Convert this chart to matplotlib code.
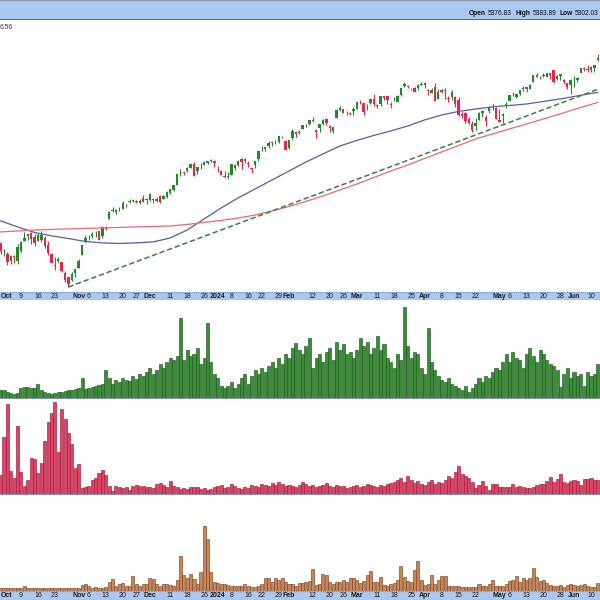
#!/usr/bin/env python3
"""Daily candlestick chart with moving averages and three indicator panels."""

import matplotlib

matplotlib.use("Agg")
import matplotlib.pyplot as plt
import numpy as np
import pandas as pd

plt.rcParams["font.family"] = ["Liberation Sans", "DejaVu Sans"]

START, END = "2023-09-29", "2024-06-12"
HOLIDAYS = ["2023-11-23", "2023-12-25", "2024-01-01", "2024-01-15",
            "2024-02-19", "2024-03-29", "2024-05-27"]

opens = [
    4328,
    4285, 4270, 4234, 4260, 4234, 4289, 4339, 4367, 4381, 4360, 4342, 4345, 4358, 4321, 4274, 4211, 4236, 4232, 4175, 4152, 4140, 4172,
    4201, 4268, 4335, 4365, 4366, 4384, 4392, 4365, 4406, 4458, 4505, 4497, 4510, 4511, 4538, 4553, 4555, 4555, 4545, 4571, 4559,
    4560, 4564, 4557, 4586, 4568, 4577, 4601, 4619, 4647, 4722, 4715, 4726, 4744, 4764, 4725, 4754, 4758, 4773, 4786, 4782,
    4745, 4726, 4698, 4690, 4703, 4742, 4759, 4792, 4792, 4772, 4740, 4760, 4796, 4853, 4856, 4888, 4886, 4888, 4892, 4925, 4900,
    4862, 4917, 4957, 4951, 4973, 4995, 5005, 5026, 4967, 4976, 5004, 5032, 4989, 4963, 5039, 5100, 5093, 5074, 5067, 5085,
    5098, 5131, 5130, 5109, 5133, 5159, 5112, 5124, 5174, 5176, 5124, 5154, 5140, 5182, 5253, 5242, 5220, 5229, 5227, 5248,
    5258, 5213, 5195, 5233, 5158, 5212, 5217, 5158, 5172, 5171, 5149, 5065, 5068, 5032, 5005, 4988, 5028, 5084, 5020, 5084, 5114, 5103,
    5029, 5050, 5122, 5142, 5187, 5172, 5189, 5226, 5234, 5221, 5264, 5310, 5303, 5305, 5298, 5320, 5340, 5282, 5316, 5278, 5260, 5244,
    5283, 5275, 5321, 5357, 5343, 5341, 5354, 5409,
]
highs = [
    4333,
    4300, 4282, 4268, 4268, 4324, 4341, 4385, 4378, 4386, 4377, 4383, 4393, 4364, 4339, 4276, 4255, 4255, 4233, 4183, 4156, 4177, 4194,
    4245, 4319, 4372, 4372, 4386, 4391, 4393, 4419, 4421, 4503, 4521, 4511, 4521, 4557, 4542, 4569, 4560, 4562, 4568, 4587, 4570,
    4599, 4574, 4579, 4590, 4590, 4610, 4623, 4644, 4709, 4739, 4725, 4749, 4768, 4779, 4748, 4772, 4784, 4785, 4793, 4789,
    4755, 4729, 4726, 4721, 4764, 4765, 4791, 4798, 4803, 4783, 4744, 4785, 4842, 4868, 4866, 4903, 4898, 4907, 4929, 4931, 4906,
    4906, 4975, 4963, 4964, 4999, 5000, 5030, 5048, 4970, 5003, 5033, 5039, 4994, 4983, 5094, 5111, 5097, 5080, 5077, 5105,
    5140, 5149, 5134, 5128, 5165, 5190, 5125, 5179, 5179, 5176, 5136, 5170, 5181, 5225, 5262, 5246, 5229, 5236, 5249, 5264,
    5263, 5221, 5229, 5256, 5222, 5219, 5225, 5178, 5211, 5175, 5168, 5075, 5078, 5046, 5019, 5039, 5076, 5089, 5058, 5114, 5123, 5110,
    5096, 5069, 5139, 5181, 5200, 5191, 5215, 5239, 5234, 5250, 5311, 5325, 5305, 5325, 5324, 5323, 5342, 5311, 5316, 5282, 5260, 5281,
    5302, 5299, 5354, 5362, 5376, 5366, 5376, 5447,
]
lows = [
    4274,
    4260, 4216, 4220, 4225, 4219, 4283, 4339, 4345, 4325, 4311, 4342, 4337, 4303, 4269, 4223, 4189, 4223, 4181, 4127, 4104, 4132, 4153,
    4198, 4268, 4335, 4347, 4357, 4360, 4343, 4354, 4396, 4458, 4495, 4487, 4500, 4511, 4525, 4546, 4552, 4546, 4537, 4548, 4538,
    4557, 4546, 4551, 4546, 4566, 4574, 4594, 4614, 4643, 4694, 4705, 4720, 4744, 4698, 4710, 4737, 4758, 4768, 4780, 4751,
    4722, 4700, 4688, 4682, 4700, 4730, 4756, 4739, 4769, 4748, 4715, 4740, 4785, 4844, 4842, 4860, 4869, 4881, 4887, 4916, 4845,
    4853, 4907, 4927, 4940, 4970, 4987, 4996, 5016, 4920, 4956, 4999, 4998, 4955, 4946, 5038, 5081, 5068, 5057, 5058, 5061,
    5094, 5127, 5056, 5091, 5128, 5114, 5104, 5114, 5151, 5123, 5104, 5147, 5138, 5173, 5235, 5229, 5216, 5203, 5214, 5245,
    5229, 5184, 5194, 5146, 5157, 5197, 5160, 5138, 5150, 5107, 5052, 5039, 5008, 5002, 4954, 4968, 5027, 5048, 4991, 5073, 5088, 5035,
    5013, 5011, 5101, 5142, 5179, 5166, 5180, 5209, 5204, 5218, 5264, 5296, 5283, 5298, 5297, 5287, 5257, 5279, 5280, 5255, 5222, 5191,
    5234, 5265, 5320, 5336, 5331, 5332, 5331, 5404,
]
closes = [
    4288,
    4288, 4229, 4263, 4258, 4308, 4336, 4358, 4377, 4349, 4327, 4373, 4373, 4314, 4278, 4224, 4217, 4248, 4186, 4137, 4117, 4167, 4193,
    4237, 4318, 4358, 4365, 4378, 4383, 4347, 4415, 4411, 4496, 4503, 4508, 4514, 4547, 4538, 4556, 4559, 4550, 4555, 4551, 4568,
    4595, 4569, 4567, 4549, 4585, 4604, 4622, 4644, 4707, 4720, 4719, 4740, 4768, 4698, 4746, 4755, 4775, 4781, 4783, 4770,
    4743, 4705, 4689, 4697, 4764, 4757, 4783, 4780, 4784, 4766, 4739, 4781, 4840, 4851, 4865, 4868, 4894, 4891, 4928, 4925, 4846,
    4906, 4959, 4942, 4954, 4995, 4998, 5027, 5022, 4953, 5001, 5030, 5006, 4976, 4982, 5087, 5089, 5070, 5078, 5070, 5096,
    5137, 5131, 5079, 5105, 5157, 5124, 5117, 5175, 5165, 5150, 5117, 5149, 5179, 5225, 5241, 5234, 5218, 5204, 5248, 5254,
    5243, 5205, 5211, 5147, 5204, 5202, 5209, 5161, 5199, 5123, 5061, 5051, 5022, 5011, 4967, 5011, 5070, 5072, 5048, 5100, 5116, 5036,
    5018, 5064, 5128, 5181, 5187, 5188, 5214, 5223, 5221, 5247, 5308, 5297, 5303, 5308, 5321, 5307, 5268, 5305, 5306, 5267, 5236, 5278,
    5283, 5291, 5354, 5352, 5347, 5361, 5375, 5421,
]

# moving averages every five sessions
ma_dates = ["2023-09-29", "2023-10-06", "2023-10-13", "2023-10-20", "2023-10-27",
            "2023-11-03", "2023-11-10", "2023-11-17", "2023-11-27", "2023-12-04",
            "2023-12-11", "2023-12-18", "2023-12-26", "2024-01-03", "2024-01-10",
            "2024-01-18", "2024-01-25", "2024-02-01", "2024-02-08", "2024-02-15",
            "2024-02-23", "2024-03-01", "2024-03-08", "2024-03-15", "2024-03-22",
            "2024-04-01", "2024-04-08", "2024-04-15", "2024-04-22", "2024-04-29",
            "2024-05-06", "2024-05-13", "2024-05-20", "2024-05-28", "2024-06-04",
            "2024-06-12"]
ma_fast = [4447, 4415, 4385, 4367, 4353, 4337, 4330, 4327, 4330, 4335,
           4356, 4398, 4458, 4518, 4573, 4623, 4674, 4725, 4777, 4824,
           4871, 4904, 4934, 4961, 4991, 5028, 5058, 5080, 5095, 5108,
           5117, 5126, 5142, 5158, 5177, 5199]
ma_slow = [4388, 4393, 4398, 4401, 4404, 4407, 4409, 4412, 4415, 4417,
           4420, 4428, 4439, 4450, 4463, 4479, 4501, 4526, 4554, 4584,
           4618, 4651, 4688, 4725, 4760, 4798, 4836, 4874, 4913, 4943,
           4973, 5003, 5034, 5065, 5098, 5136]

trend_dates = ["2023-10-27", "2024-06-12"]
trend_prices = [4104, 5218]

green_bars = [
    8, 8, 6, 5, 4, 5, 10, 11, 11, 10,
    10, 14, 8, 6, 5, 4, 5, 6, 6, 7,
    8, 8, 9, 10, 20, 9, 10, 11, 12, 13,
    14, 28, 20, 14, 18, 16, 20, 18, 17, 22,
    19, 24, 22, 26, 30, 24, 28, 34, 30, 36,
    40, 38, 42, 80, 38, 48, 42, 44, 50, 34,
    40, 75, 36, 24, 20, 12, 10, 12, 16, 10,
    14, 20, 24, 14, 22, 28, 24, 30, 26, 32,
    36, 30, 40, 34, 44, 40, 50, 55, 48, 44,
    52, 60, 30, 40, 44, 36, 46, 50, 38, 56,
    48, 54, 44, 46, 40, 48, 60, 52, 56, 44,
    50, 62, 48, 54, 40, 36, 30, 44, 38, 91,
    52, 40, 46, 44, 30, 24, 70, 36, 28, 22,
    18, 16, 20, 14, 12, 10, 8, 12, 6, 10,
    14, 20, 16, 22, 20, 26, 30, 28, 36, 44,
    36, 46, 40, 38, 30, 44, 50, 42, 36, 48,
    44, 38, 34, 32, 28, 11, 24, 30, 20, 26,
    22, 24, 12, 26, 22, 24, 34,
]
red_bars = [
    19, 57, 90, 23, 16, 68, 22, 8, 14, 36,
    35, 21, 31, 53, 72, 81, 92, 42, 85, 75,
    61, 50, 26, 30, 6, 7, 8, 14, 16, 21,
    24, 19, 8, 3, 8, 7, 6, 7, 4, 8,
    9, 8, 8, 7, 7, 6, 10, 11, 9, 7,
    13, 8, 7, 5, 6, 5, 7, 7, 7, 5,
    6, 4, 5, 7, 8, 9, 6, 7, 10, 8,
    6, 5, 7, 6, 9, 8, 7, 10, 9, 8,
    11, 9, 12, 10, 8, 9, 8, 7, 9, 12,
    10, 8, 9, 7, 8, 9, 11, 8, 7, 9,
    8, 8, 6, 7, 8, 9, 7, 8, 10, 9,
    8, 7, 9, 8, 10, 11, 12, 14, 16, 12,
    18, 14, 11, 13, 10, 9, 12, 14, 10, 12,
    11, 14, 18, 16, 22, 28, 20, 18, 16, 12,
    6, 9, 13, 8, 4, 10, 10, 7, 7, 7,
    7, 10, 7, 8, 7, 6, 6, 7, 9, 10,
    10, 13, 17, 12, 15, 20, 12, 11, 13, 14,
    13, 9, 15, 15, 16, 14, 14,
]
brown_bars = [
    3, 3, 3, 3, 3, 3, 3, 5, 3, 3,
    3, 3, 3, 3, 3, 3, 3, 3, 3, 3,
    3, 3, 3, 3, 6, 7, 5, 3, 4, 3,
    3, 4, 9, 12, 5, 7, 8, 5, 5, 15,
    7, 5, 7, 7, 13, 12, 7, 5, 7, 7,
    6, 5, 11, 35, 16, 13, 17, 12, 7, 19,
    65, 52, 19, 9, 8, 7, 7, 6, 5, 5,
    5, 5, 7, 5, 4, 4, 5, 7, 13, 13,
    9, 13, 11, 13, 9, 7, 7, 5, 8,
    8, 9, 10, 22, 6, 7, 17, 16, 9, 7,
    9, 9, 11, 9, 13, 13, 11, 8, 10,
    16, 20, 9, 9, 14, 6, 5, 7, 8, 11,
    25, 14, 10, 9, 21, 30, 11, 6, 7, 16,
    7, 11, 15, 15, 5, 5, 5, 5, 4, 4,
    4, 4, 4, 7, 5, 5, 7, 11, 5, 5,
    5, 7, 10, 11, 15, 9, 13, 11, 13,
    23, 14, 10, 11, 8, 6, 5, 5, 6, 4,
    6, 7, 6, 5, 6, 7, 5, 4, 4, 8,
]

tick_dates = ["2023-10-02", "2023-10-09", "2023-10-16", "2023-10-23", "2023-11-01",
              "2023-11-06", "2023-11-13", "2023-11-20", "2023-11-27", "2023-12-01",
              "2023-12-11", "2023-12-18", "2023-12-26", "2024-01-02", "2024-01-08",
              "2024-01-16", "2024-01-22", "2024-01-29", "2024-02-01", "2024-02-12",
              "2024-02-20", "2024-02-26", "2024-03-01", "2024-03-11", "2024-03-18",
              "2024-03-25", "2024-04-01", "2024-04-08", "2024-04-15", "2024-04-22",
              "2024-05-01", "2024-05-06", "2024-05-13", "2024-05-20", "2024-05-28",
              "2024-06-03", "2024-06-10"]
tick_labels = ["Oct", "9", "16", "23", "Nov", "6", "13", "20", "27", "Dec",
               "11", "18", "26", "2024", "8", "16", "22", "29", "Feb", "12",
               "20", "26", "Mar", "11", "18", "25", "Apr", "8", "15", "22",
               "May", "6", "13", "20", "28", "Jun", "10"]

header_labels = ["Open", "High", "Low"]
header_values = ["5376.83", "5383.89", "5302.03"]

BAND = "#a9c9f2"
BAND_EDGE = "#6d8cbf"
UP, DOWN = "#22882a", "#e0284f"
W, H = 600, 600
XLIM = (-0.18, 176.66)


def add_panel(fig, top, bottom):
    ax = fig.add_axes([0, 1 - bottom / H, 1, (bottom - top) / H])
    ax.set_xlim(*XLIM)
    ax.set_xticks([])
    ax.set_yticks([])
    for side in ax.spines.values():
        side.set_visible(False)
    return ax


def date_band(fig, top, bottom, positions):
    ax = add_panel(fig, top, bottom)
    ax.set_facecolor(BAND)
    ax.set_ylim(0, 1)
    ax.axhline(1, color=BAND_EDGE, lw=0.8, ls=(0, (1, 1)))
    ax.axhline(0, color=BAND_EDGE, lw=0.8, ls=(0, (1, 1)))
    for x, label in zip(positions, tick_labels):
        bold = not label.isdigit() or label == "2024"
        # keep the first label inside the left edge
        ha = "left" if x < 2 else "center"
        xpos = XLIM[0] + 0.1 if x < 2 else x
        ax.text(xpos, 0.45, label, ha=ha, va="center", fontsize=5,
                fontweight="bold" if bold else "normal", color="#1a1a1a")
    return ax


def bar_panel(fig, top, bottom, values, fill, edge, ymax):
    ax = add_panel(fig, top, bottom)
    ax.bar(np.arange(len(values)), values, width=0.9, color=fill,
           edgecolor=edge, linewidth=0.45)
    ax.set_ylim(0, ymax)
    ax.spines["bottom"].set_visible(True)
    ax.spines["bottom"].set_color("#8090a0")
    ax.spines["bottom"].set_linewidth(0.9)
    return ax


def header(fig):
    head = add_panel(fig, 0, 20)
    head.set_facecolor(BAND)
    head.set_ylim(0, 1)
    head.axhline(0.02, color="#505a66", lw=1.2)
    head.axhline(0.98, color="#8a96a4", lw=0.8)

    # lay the label/value pairs out one after another, ending at the right edge
    renderer = fig.canvas.get_renderer()
    texts = []
    px = 0.0
    for label, value in zip(header_labels, header_values):
        for txt, weight, gap in [(label, "bold", 2.0), (value, "normal", 3.5)]:
            t = head.text(0, 0.32, txt, transform=head.transAxes,
                          fontsize=4.8, fontweight=weight, color="#111111",
                          va="center", ha="left")
            texts.append((t, px))
            px += t.get_window_extent(renderer).width + gap
    start = W - 1.5 - (px - 3.5)
    for t, offset in texts:
        t.set_x((start + offset) / W)
    return head


def main():
    days = pd.bdate_range(START, END, freq="C", holidays=HOLIDAYS)
    index = {d.strftime("%Y-%m-%d"): i for i, d in enumerate(days)}
    x = np.arange(len(days))

    o, h, l, c = (np.array(v, dtype=float) for v in (opens, highs, lows, closes))
    prev = np.concatenate([[o[0]], c[:-1]])
    colors = np.where(c >= prev, UP, DOWN)

    fig = plt.figure(figsize=(W / 100, H / 100), dpi=100)

    header(fig)

    # price panel
    ax = add_panel(fig, 20, 292)
    ax.set_yscale("log")
    ax.set_ylim(4079, 5677)
    ax.set_yticks([], minor=True)
    ax.set_yticks([])
    ax.vlines(x, l, h, colors=colors, lw=0.8)
    body = np.maximum(np.abs(c - o), 1.5)
    ax.bar(x, body, bottom=np.minimum(o, c), width=0.7, color=colors, linewidth=0)

    ma_x = [index[d] for d in ma_dates]
    ax.plot(ma_x, ma_fast, color="#5a5aa8", lw=0.9)
    ax.plot(ma_x, ma_slow, color="#e46a78", lw=0.9)
    ax.plot([index[d] for d in trend_dates], trend_prices, color="#3d7d3d",
            lw=1.1, ls=(0, (3.5, 1.8)))
    ax.text(0.0, 0.985, "6.56", transform=ax.transAxes, fontsize=4.8,
            color="#333333", va="top", ha="left")

    positions = [index[d] for d in tick_dates]
    date_band(fig, 292, 300, positions)

    bar_panel(fig, 300, 398, green_bars, "#3c8c3a", "#1f5a1f", 98)
    bar_panel(fig, 399, 494, red_bars, "#dc4466", "#9c1c3c", 95)
    bar_panel(fig, 495, 591, brown_bars, "#c98556", "#7a4626", 96)

    date_band(fig, 591, 600, positions)

    fig.savefig("out.png", dpi=100)
    plt.close(fig)


if __name__ == "__main__":
    main()
